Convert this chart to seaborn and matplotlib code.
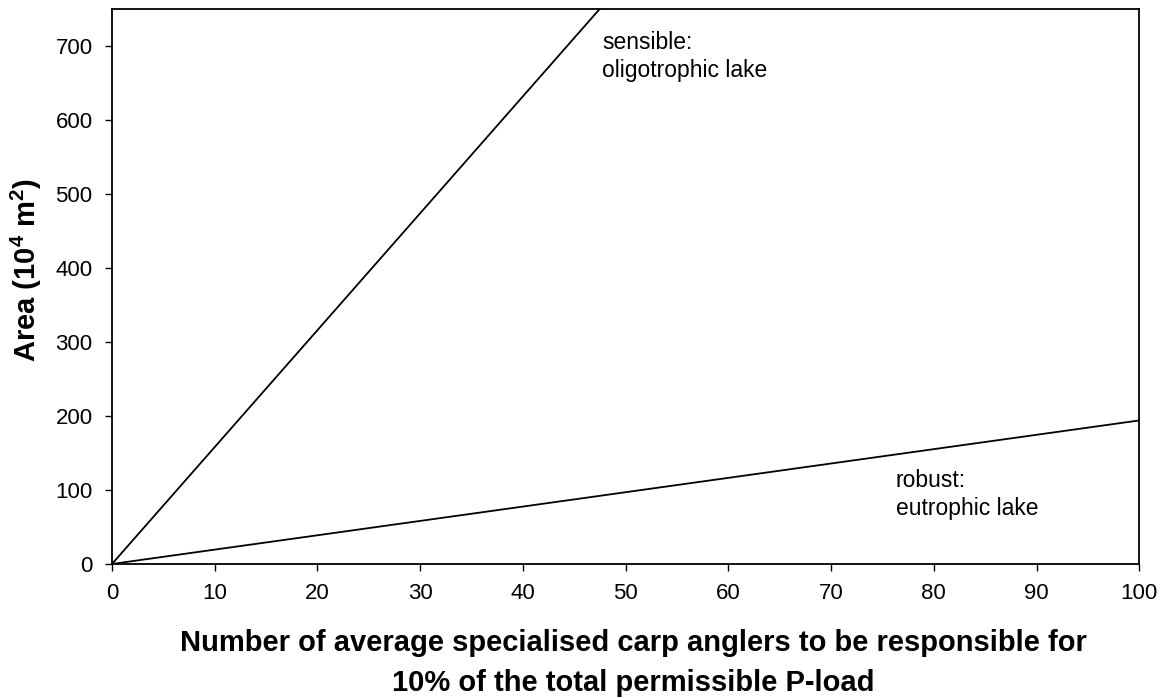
import numpy as np
import pandas as pd
import matplotlib
matplotlib.use("Agg")
import matplotlib.pyplot as plt
import seaborn as sns

# data: area needed vs number of anglers
anglers = [0, 100]
sensible_area = [0, 1580]   # oligotrophic lake, slope ~15.8 per angler
robust_area = [0, 194]      # eutrophic lake, slope ~1.94 per angler

x_ticks = list(range(0, 101, 10))
y_ticks = list(range(0, 701, 100))

sns.set_theme(style="ticks")
plt.rcParams['font.family'] = ['Liberation Sans', 'DejaVu Sans']
plt.rcParams['text.color'] = 'black'
plt.rcParams['axes.labelcolor'] = 'black'
plt.rcParams['mathtext.fontset'] = 'custom'
plt.rcParams['mathtext.rm'] = 'Liberation Sans'
plt.rcParams['mathtext.bf'] = 'Liberation Sans:bold'

df = pd.DataFrame({
    'anglers': anglers * 2,
    'area': sensible_area + robust_area,
    'lake': ['sensible'] * 2 + ['robust'] * 2,
})

fig = plt.figure(figsize=(11.7, 6.98), dpi=100)
ax = fig.add_axes([0.0957, 0.192, 0.878, 0.795])
sns.lineplot(data=df, x='anglers', y='area', units='lake', estimator=None,
             color='black', linewidth=1.3, ax=ax)

ax.set_xlim(0, 100)
ax.set_ylim(0, 750)
ax.set_xticks(x_ticks)
ax.set_yticks(y_ticks)
ax.tick_params(direction='out', length=5, width=1, labelsize=16, colors='black')
ax.tick_params(axis='x', pad=9)
ax.tick_params(axis='y', pad=9)
for s in ax.spines.values():
    s.set_linewidth(1.3)
    s.set_color('black')

ax.text(47.7, 686, 'sensible:\noligotrophic lake', fontsize=16.5,
        va='center', ha='left', linespacing=1.3)
ax.text(76.3, 94, 'robust:\neutrophic lake', fontsize=16.5,
        va='center', ha='left', linespacing=1.3)

ax.set_xlabel('Number of average specialised carp anglers to be responsible for\n'
              '10% of the total permissible P-load',
              fontsize=21, fontweight='bold', linespacing=1.55)
ax.set_ylabel(r'Area (10$^\mathbf{4}$ m$^\mathbf{2}$)', fontsize=21,
              fontweight='bold')
ax.xaxis.set_label_coords(0.5075, -0.179)
ax.yaxis.set_label_coords(-0.083, 0.53)
ax.xaxis.label.set_va('center')
ax.yaxis.label.set_va('center')

fig.savefig('out.png', dpi=100, facecolor='white')
